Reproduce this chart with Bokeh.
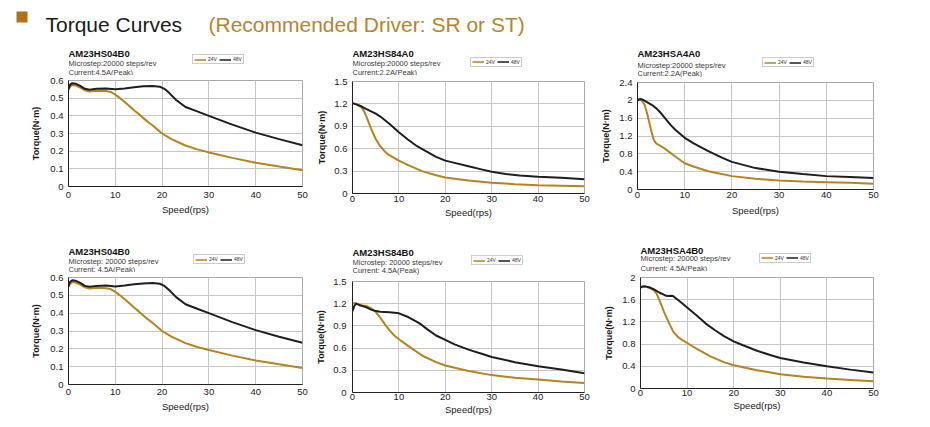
from bokeh.plotting import figure
from bokeh.layouts import column, row
from bokeh.models import (Range1d, FixedTicker, NumeralTickFormatter, Label,
                          Legend, LegendItem, BoxAnnotation)
from bokeh.embed import file_html
from bokeh.resources import INLINE

# ---------------- data ----------------
speed_ticks = [0, 10, 20, 30, 40, 50]
ticks_06 = [0, 0.1, 0.2, 0.3, 0.4, 0.5, 0.6]
ticks_15 = [0, 0.3, 0.6, 0.9, 1.2, 1.5]
ticks_24 = [0, 0.4, 0.8, 1.2, 1.6, 2.0, 2.4]
ticks_20 = [0, 0.4, 0.8, 1.2, 1.6, 2.0]

series_names = ["24V", "48V"]

# AM23HS04B0 (4.5A)
hs04b0_x48 = [0, 0.3, 0.8, 1.5, 2.5, 3.5, 4.5, 6, 8, 10, 12, 14, 16, 18, 19.5, 20.5, 21.5, 23, 25, 27.5, 30, 35, 40, 45, 50]
hs04b0_y48 = [0.55, 0.575, 0.585, 0.582, 0.57, 0.553, 0.548, 0.553, 0.555, 0.55, 0.555, 0.562, 0.567, 0.569, 0.565, 0.553, 0.53, 0.49, 0.45, 0.425, 0.40, 0.35, 0.305, 0.268, 0.234]
hs04b0_x24 = [0, 0.3, 0.8, 1.5, 2.5, 3.5, 4.5, 6, 8, 9, 10, 11, 12, 13, 14, 15, 16, 17, 18, 19, 20, 22, 25, 27.5, 30, 35, 40, 45, 50]
hs04b0_y24 = [0.55, 0.565, 0.575, 0.572, 0.56, 0.545, 0.538, 0.542, 0.54, 0.535, 0.52, 0.5, 0.478, 0.455, 0.432, 0.41, 0.387, 0.365, 0.345, 0.322, 0.30, 0.268, 0.232, 0.21, 0.193, 0.162, 0.135, 0.113, 0.092]

# AM23HS84A0 (2.2A)
hs84a0_x48 = [0, 1, 2, 3, 4, 5, 6, 7, 8, 10, 12, 14, 16, 18, 20, 22, 25, 28, 30, 33, 36, 40, 45, 50]
hs84a0_y48 = [1.21, 1.19, 1.165, 1.13, 1.10, 1.07, 1.03, 0.98, 0.93, 0.82, 0.72, 0.63, 0.56, 0.49, 0.44, 0.41, 0.365, 0.32, 0.29, 0.26, 0.24, 0.225, 0.21, 0.19]
hs84a0_x24 = [0, 1, 2, 2.5, 3, 3.5, 4, 5, 6, 7, 8, 10, 12, 15, 18, 20, 25, 30, 35, 40, 45, 50]
hs84a0_y24 = [1.21, 1.19, 1.15, 1.1, 1.03, 0.95, 0.87, 0.73, 0.63, 0.56, 0.51, 0.44, 0.38, 0.30, 0.245, 0.215, 0.175, 0.145, 0.125, 0.11, 0.105, 0.098]

# AM23HSA4A0 (2.2A)
hsa4a0_x48 = [0, 0.5, 1, 2, 3, 4, 5, 6, 7, 8, 10, 12, 15, 18, 20, 25, 30, 35, 40, 45, 50]
hsa4a0_y48 = [2.0, 2.03, 2.02, 1.96, 1.9, 1.82, 1.71, 1.58, 1.45, 1.34, 1.16, 1.03, 0.86, 0.71, 0.62, 0.48, 0.40, 0.345, 0.30, 0.28, 0.26]
hsa4a0_x24 = [0, 0.5, 1, 1.5, 2, 2.5, 3, 3.5, 4, 5, 6, 7, 8, 10, 12, 15, 20, 25, 30, 35, 40, 45, 50]
hsa4a0_y24 = [2.02, 2.02, 1.98, 1.9, 1.72, 1.5, 1.28, 1.1, 1.03, 0.97, 0.9, 0.82, 0.74, 0.59, 0.51, 0.41, 0.30, 0.24, 0.20, 0.18, 0.165, 0.15, 0.13]

# AM23HS84B0 (4.5A)
hs84b0_x48 = [0, 0.4, 0.8, 1.5, 2, 3, 4, 5, 6, 8, 10, 12, 14, 15, 16, 18, 20, 22, 25, 28, 30, 35, 40, 45, 50]
hs84b0_y48 = [1.1, 1.17, 1.2, 1.18, 1.17, 1.15, 1.12, 1.1, 1.09, 1.085, 1.07, 1.02, 0.95, 0.91, 0.86, 0.77, 0.71, 0.65, 0.58, 0.52, 0.48, 0.41, 0.355, 0.31, 0.26]
hs84b0_x24 = [0, 0.5, 1, 2, 3, 4, 5, 6, 7, 8, 9, 10, 12, 15, 18, 20, 25, 30, 35, 40, 45, 50]
hs84b0_y24 = [1.2, 1.21, 1.2, 1.18, 1.17, 1.14, 1.09, 1.01, 0.92, 0.84, 0.77, 0.72, 0.63, 0.5, 0.41, 0.365, 0.29, 0.235, 0.2, 0.175, 0.15, 0.13]

# AM23HSA4B0 (4.5A)
hsa4b0_x48 = [0, 0.5, 1, 2, 3, 4, 5, 5.5, 6, 6.5, 7, 8, 9, 10, 12, 14, 16, 18, 20, 22, 25, 28, 30, 35, 40, 45, 50]
hsa4b0_y48 = [1.82, 1.84, 1.84, 1.82, 1.78, 1.73, 1.69, 1.67, 1.665, 1.67, 1.665, 1.6, 1.53, 1.46, 1.32, 1.17, 1.05, 0.94, 0.85, 0.78, 0.68, 0.6, 0.55, 0.47, 0.40, 0.34, 0.29]
hsa4b0_x24 = [0, 0.5, 1, 2, 2.5, 3, 3.5, 4, 4.5, 5, 6, 7, 8, 9, 10, 12, 15, 18, 20, 25, 30, 35, 40, 45, 50]
hsa4b0_y24 = [1.82, 1.84, 1.84, 1.81, 1.79, 1.76, 1.7, 1.6, 1.5, 1.39, 1.2, 1.03, 0.93, 0.87, 0.82, 0.72, 0.58, 0.47, 0.42, 0.33, 0.255, 0.21, 0.18, 0.155, 0.13]

# ---------------- style ----------------
ORANGE = "#b5831f"
BLACK = "#1e1e1e"
FONT = "Liberation Sans"


def make_panel(model, lines, x24, y24, x48, y48, ymax, yticks, g):
    W = g["fig"][1] - g["fig"][0]
    bl = g["frame_x"][0] - g["fig"][0]
    fw = g["frame_x"][1] - g["frame_x"][0]
    br = W - bl - fw
    bt = g["bt"]
    fh = g["frame_y"][1] - g["frame_y"][0]
    bb = g["row"][1] - g["frame_y"][1]
    cap_h = g["frame_y"][0] - bt - g["row"][0]
    cap_bottom = g["frame_y"][0] - bt   # page y of caption bottom
    fx0 = g["frame_x"][0]

    # ---- chart ----
    p = figure(frame_width=fw, frame_height=fh,
               min_border_left=bl, min_border_right=br,
               min_border_top=bt, min_border_bottom=bb,
               x_range=Range1d(0, 50), y_range=Range1d(0, ymax), title=None,
               output_backend="svg", toolbar_location=None, tools="")
    p.background_fill_color = "white"
    p.border_fill_color = "white"
    p.outline_line_color = "#a9a9a9"
    p.outline_line_width = 1

    p.xaxis.ticker = FixedTicker(ticks=speed_ticks)
    p.yaxis.ticker = FixedTicker(ticks=yticks)
    p.yaxis.formatter = NumeralTickFormatter(format="0.[0]")
    p.xaxis.formatter = NumeralTickFormatter(format="0")
    for ax in (p.xaxis[0], p.yaxis[0]):
        ax.major_tick_out = 0
        ax.major_tick_in = 0
        ax.minor_tick_out = 0
        ax.minor_tick_in = 0
        ax.axis_line_color = "#222222"
        ax.axis_line_width = 1
        ax.major_label_text_font = FONT
        ax.major_label_text_font_size = "9.5px"
        ax.major_label_text_color = "#222222"
        ax.axis_label_text_font = FONT
        ax.axis_label_text_color = "#1a1a1a"
    p.xaxis.axis_label = "Speed(rps)"
    p.xaxis.axis_label_text_font_size = "9.5px"
    p.xaxis.axis_label_text_font_style = "normal"
    p.xaxis.major_label_standoff = g["xs"][0]
    p.xaxis.axis_label_standoff = g["xs"][1]
    p.yaxis.axis_label = "Torque(N·m)"
    p.yaxis.axis_label_text_font_size = "9px"
    p.yaxis.axis_label_text_font_style = "bold"
    p.yaxis.major_label_standoff = g["ys"][0]
    p.yaxis.axis_label_standoff = g["ys"][1]

    p.xgrid.grid_line_color = "#c6c6c6"
    p.ygrid.grid_line_color = "#c6c6c6"

    p.line(x24, y24, line_color=ORANGE, line_width=2)
    p.line(x48, y48, line_color=BLACK, line_width=2)

    # ---- caption (model name, settings, legend); frame aligned with chart frame ----
    c = figure(frame_width=fw, frame_height=cap_h,
               min_border_left=bl, min_border_right=br,
               min_border_top=0, min_border_bottom=0,
               x_range=Range1d(0, fw), y_range=Range1d(0, cap_h), title=None,
               x_axis_type=None, y_axis_type=None,
               output_backend="svg", toolbar_location=None, tools="")
    c.outline_line_color = None
    c.xgrid.visible = False
    c.ygrid.visible = False
    tx = g["text_x"] - fx0
    base = g["baselines"]
    c.add_layout(Label(x=tx, y=cap_bottom - base[0], text=model, text_font=FONT,
                       text_font_size="9.5px", text_font_style="bold",
                       text_color="#111111", text_baseline="alphabetic"))
    for txt, b in zip(lines, base[1:]):
        c.add_layout(Label(x=tx, y=cap_bottom - b, text=txt, text_font=FONT,
                           text_font_size="7.5px", text_color="#3a3a3a",
                           text_baseline="alphabetic"))
    # legend keys: single-point lines (draw nothing themselves, only the legend swatch)
    k24 = c.line(x24[:1], y24[:1], line_color=ORANGE, line_width=1.5)
    k48 = c.line(x48[:1], y48[:1], line_color=BLACK, line_width=1.5)
    lx, lyb = g["legend"]
    legend = Legend(items=[LegendItem(label=series_names[0], renderers=[k24]),
                           LegendItem(label=series_names[1], renderers=[k48])],
                    location=(lx - fx0, cap_bottom - lyb),
                    orientation="horizontal",
                    label_text_font=FONT, label_text_font_size="5px",
                    label_text_color="#333333",
                    glyph_width=12, glyph_height=5, label_height=5, label_width=8,
                    label_standoff=2, spacing=2, padding=1, margin=0,
                    border_line_color="#9a9a9a", border_line_width=1,
                    background_fill_color="white", background_fill_alpha=1)
    c.add_layout(legend)
    return column(c, p, spacing=0)


# page-pixel geometry of each panel
geo = [
    dict(fig=(0, 312), frame_x=(68, 302), frame_y=(80, 186), row=(36, 224), bt=5,
         xs=(5, 3), ys=(5, 6), text_x=68, baselines=(53, 62.5, 71.5), legend=(192, 64)),
    dict(fig=(312, 598), frame_x=(352, 584), frame_y=(81, 193), row=(36, 224), bt=6,
         xs=(2, 2), ys=(5, 4), text_x=352, baselines=(52.5, 62.5, 71.5), legend=(470, 66.5)),
    dict(fig=(598, 925), frame_x=(637, 873), frame_y=(82, 189), row=(36, 224), bt=5,
         xs=(2, 4), ys=(5, 5), text_x=637, baselines=(53, 65, 73), legend=(762, 67)),
    dict(fig=(0, 312), frame_x=(68, 302), frame_y=(277, 384), row=(224, 420), bt=5,
         xs=(4, 3), ys=(5, 6), text_x=68, baselines=(250.7, 260.7, 268.5), legend=(193, 264)),
    dict(fig=(312, 598), frame_x=(352, 584), frame_y=(281, 392), row=(224, 420), bt=6,
         xs=(1, 1), ys=(6, 4), text_x=352, baselines=(251.7, 261.7, 270), legend=(471, 265)),
    dict(fig=(598, 925), frame_x=(640, 873), frame_y=(277, 388), row=(224, 420), bt=6,
         xs=(1, 1), ys=(5, 5), text_x=640, baselines=(250, 258.3, 267.5), legend=(759, 262.7)),
]

p1 = make_panel("AM23HS04B0", ["Microstep:20000 steps/rev", "Current:4.5A(Peak)"],
                hs04b0_x24, hs04b0_y24, hs04b0_x48, hs04b0_y48, 0.6, ticks_06, geo[0])
p2 = make_panel("AM23HS84A0", ["Microstep:20000 steps/rev", "Current:2.2A(Peak)"],
                hs84a0_x24, hs84a0_y24, hs84a0_x48, hs84a0_y48, 1.5, ticks_15, geo[1])
p3 = make_panel("AM23HSA4A0", ["Microstep:20000 steps/rev", "Current:2.2A(Peak)"],
                hsa4a0_x24, hsa4a0_y24, hsa4a0_x48, hsa4a0_y48, 2.4, ticks_24, geo[2])
p4 = make_panel("AM23HS04B0", ["Microstep: 20000 steps/rev", "Current: 4.5A(Peak)"],
                hs04b0_x24, hs04b0_y24, hs04b0_x48, hs04b0_y48, 0.6, ticks_06, geo[3])
p5 = make_panel("AM23HS84B0", ["Microstep: 20000 steps/rev", "Current: 4.5A(Peak)"],
                hs84b0_x24, hs84b0_y24, hs84b0_x48, hs84b0_y48, 1.5, ticks_15, geo[4])
p6 = make_panel("AM23HSA4B0", ["Microstep: 20000 steps/rev", "Current: 4.5A(Peak)"],
                hsa4b0_x24, hsa4b0_y24, hsa4b0_x48, hsa4b0_y48, 2.0, ticks_20, geo[5])

# header
HW, HH = 925, 36
h = figure(frame_width=HW, frame_height=HH, min_border=0, title=None,
           x_range=Range1d(0, HW), y_range=Range1d(0, HH),
           x_axis_type=None, y_axis_type=None,
           output_backend="svg", toolbar_location=None, tools="")
h.outline_line_color = None
h.xgrid.visible = False
h.ygrid.visible = False
h.add_layout(BoxAnnotation(left=16, right=27, bottom=HH - 22, top=HH - 11,
                           fill_color="#b3711a", fill_alpha=1, line_color=None))
h.add_layout(Label(x=45, y=HH - 24, text="Torque Curves", text_font=FONT,
                   text_font_size="21px", text_color="#1a1a1a", text_baseline="alphabetic"))
h.add_layout(Label(x=208, y=HH - 24, text="(Recommended Driver: SR or ST)", text_font=FONT,
                   text_font_size="21px", text_color="#b8842e", text_baseline="alphabetic"))

layout = column(h, row(p1, p2, p3, spacing=0), row(p4, p5, p6, spacing=0), spacing=0)

with open("out.html", "w") as f:
    f.write(file_html(layout, INLINE))
